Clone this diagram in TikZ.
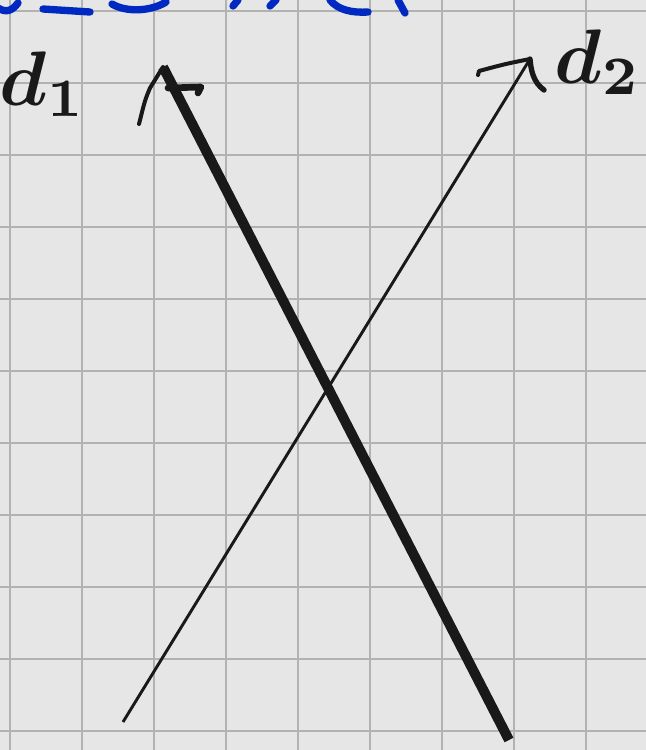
\documentclass[tikz,border=0pt]{standalone}
\usepackage{tikz}
\usepackage{graphicx}

\definecolor{paper}{RGB}{230,230,230}
\definecolor{gridgray}{RGB}{178,178,178}
\definecolor{inkblue}{RGB}{0,41,194}
\definecolor{ink}{RGB}{25,25,25}

\newcommand{\biglabel}[1]{\scalebox{5.8}{\boldmath$#1$}}

\tikzset{every picture/.style={line width=0.75pt}}
\tikzset{
  gridline/.style={draw=gridgray, line width=1.6pt},
  blueink/.style={draw=inkblue, line width=5.5pt, line cap=round},
  barb/.style={draw=ink, line width=3pt, line cap=round, line join=round},
  lbl/.style={text=ink, inner sep=0pt}
}

\begin{document}
\begin{tikzpicture}[x=0.75pt,y=0.75pt,yscale=-1,xscale=1]
\useasboundingbox (0,0) rectangle (646,750);

%Shape: Rectangle (paper)
\fill[paper] (0,0) rectangle (646,750);
%Shape: Grid
\foreach \gx in {10,82,...,586} {\draw[gridline] (\gx,0) -- (\gx,750);}
\foreach \gy in {11,83,...,731} {\draw[gridline] (0,\gy) -- (646,\gy);}

%Blue writing, cut off at the top
\begin{scope}
\clip (0,0) rectangle (646,750);
\draw[blueink] (-2,8) .. controls (6,13) and (12,11) .. (18,3);
\draw[blueink] (43,9) -- (90,12);
\draw[blueink] (112,4) .. controls (125,12) and (150,12) .. (166,2);
\draw[blueink] (233,6) -- (238,0);
\draw[blueink] (270,6) -- (276,0);
\draw[blueink] (330,0) .. controls (338,10) and (352,13) .. (368,12);
\draw[blueink] (398,0) -- (405,13);
\end{scope}

%Points
\coordinate (d1top) at (163,67);
\coordinate (d1bot) at (509,740);
\coordinate (d2top) at (530,59);
\coordinate (d2bot) at (123,722);

%Straight Lines d1
\draw[ink, line width=7.5pt] (d1bot) -- (d1top);
%Arrow head d1
\draw[barb] (d1top) -- (150,88) .. controls (145,100) .. (139,124);
\draw[barb, line width=5pt] (168,88) -- (201,87) -- (198,93);

%Straight Lines d2
\draw[ink, line width=2.2pt] (d2bot) -- (d2top);
%Arrow head d2
\draw[barb] (d2top) .. controls (505,64) .. (479,71) -- (478,75);
\draw[barb, line width=4pt] (d2top) .. controls (531,70) and (533,82) .. (544,90);

% Text Node
\node[lbl] (lab1) at (43,84) {\biglabel{d_1}};
\node[lbl] (lab2) at (598,62) {\biglabel{d_2}};
\end{tikzpicture}
\end{document}
